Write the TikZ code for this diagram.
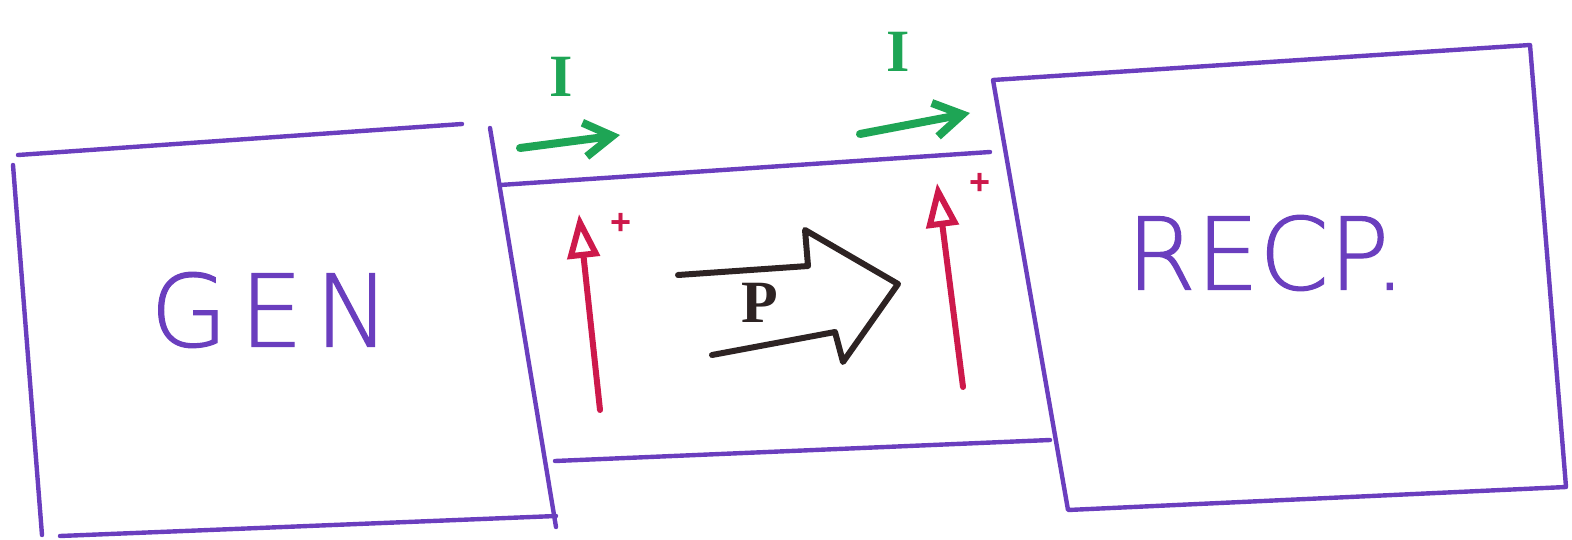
\documentclass[tikz,border=0pt]{standalone}
\usepackage{fontspec}
\setmainfont{Liberation Sans}
\newfontfamily\sketchfont[LetterSpace=12, FakeBold=1.2]{DejaVu Sans ExtraLight}
\newfontfamily\sketchfontb[FakeBold=1.2]{DejaVu Sans ExtraLight}
\newfontfamily\serifsketch{Liberation Serif}
\usetikzlibrary{arrows.meta}
\definecolor{boxpurple}{RGB}{106,62,190}
\definecolor{voltred}{RGB}{205,25,75}
\definecolor{curgreen}{RGB}{30,165,85}
\definecolor{powblack}{RGB}{45,35,35}
\tikzset{
    box/.style={draw=boxpurple, line width=2.2pt, line join=round, line cap=round},
    boxlabel/.style={text=boxpurple, font=\sketchfont\fontsize{50}{50}\selectfont, inner sep=0pt},
    volt/.style={draw=voltred, line width=3pt, line cap=round, -{Triangle[open, length=22pt, width=16pt, line width=3pt]}},
    plus/.style={text=voltred, font=\bfseries\fontsize{18}{18}\selectfont, inner sep=0pt},
    curr/.style={draw=curgreen, line width=4pt, line cap=round, -{Straight Barb[length=14pt, width=17pt, line width=4pt]}},
    curlabel/.style={text=curgreen, font=\serifsketch\bfseries\fontsize{30}{30}\selectfont, inner sep=0pt},
    power/.style={draw=powblack, line width=3pt, line join=round, line cap=round},
    powlabel/.style={text=powblack, font=\serifsketch\bfseries\fontsize{30}{30}\selectfont, inner sep=0pt},
}

\begin{document}
\begin{tikzpicture}[x=0.5pt, y=-0.5pt]
    \useasboundingbox (0,0) rectangle (1572,540);

    % Generator box
    \coordinate (gtl) at (18,155);
    \coordinate (gtr) at (462,124);
    \coordinate (gbl) at (42,535);
    \coordinate (gbr) at (556,516);
    \draw[box] (gtl) -- (gtr);
    \draw[box] (13,165) -- (gbl);
    \draw[box] (490,128) -- (556,527);
    \draw[box] (60,536) -- (gbr);
    \node[boxlabel] (gen) at (270,310) {GEN};

    % Receiver box
    \coordinate (rtl) at (993,80);
    \coordinate (rtr) at (1530,45);
    \coordinate (rbl) at (1068,510);
    \coordinate (rbr) at (1566,487);
    \draw[box] (rtl) -- (rtr) -- (rbr) -- (rbl) -- cycle;
    \node[boxlabel, font=\sketchfontb\fontsize{50}{50}\selectfont] (recp) at (1266,253) {RECP.};

    % Line between them
    \draw[box] (500,185) -- (990,152);
    \draw[box] (555,461) -- (1050,440);

    % Currents
    \coordinate (i1s) at (520,148);
    \coordinate (i1e) at (620,135);
    \coordinate (i2s) at (860,134);
    \coordinate (i2e) at (970,113);
    \draw[curr] (i1s) -- (i1e);
    \draw[curr] (i2s) -- (i2e);
    \node[curlabel] (cur1) at (561,77) {I};
    \node[curlabel] (cur2) at (898,52) {I};

    % Voltages
    \coordinate (v1s) at (600,410);
    \coordinate (v1e) at (579,214);
    \coordinate (v2s) at (963,387);
    \coordinate (v2e) at (937,183);
    \draw[volt] (v1s) -- (v1e);
    \draw[volt] (v2s) -- (v2e);
    \node[plus] (plus1) at (621,224) {+};
    \node[plus] (plus2) at (980,184) {+};

    % Power flow
    \draw[power] (678,275) -- (808,266) -- (805,230) -- (898,284) -- (843,362) -- (835,332) -- (712,355);
    \node[powlabel] (pow) at (760,303) {P};
\end{tikzpicture}
\end{document}
